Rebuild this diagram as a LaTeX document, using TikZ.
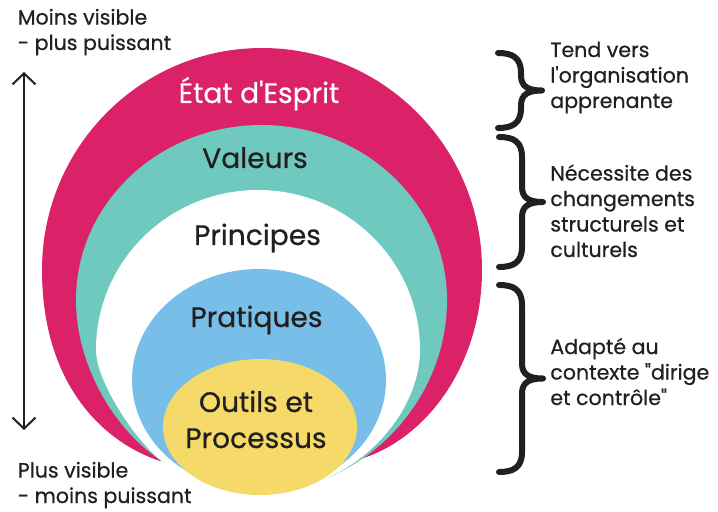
\documentclass[tikz,border=0pt]{standalone}
\usepackage{fontspec}
\setmainfont{Poppins}[FakeBold=0.6]
\usetikzlibrary{arrows.meta}
\definecolor{rose}{HTML}{DB2268}
\definecolor{turquoise}{HTML}{6FC9BE}
\definecolor{bleu}{HTML}{77BFE8}
\definecolor{jaune}{HTML}{F6DA69}
\definecolor{encre}{HTML}{231F20}
\newcommand{\accolade}[3]{%
	\draw[accolade] (#1,#2) .. controls (#1+0.3,#2) and (#1+0.46,#2-0.1) .. (#1+0.46,#2-0.4)
		-- (#1+0.46,{(#2+#3)/2+0.3}) .. controls (#1+0.46,{(#2+#3)/2+0.08}) and (#1+0.6,{(#2+#3)/2}) .. (#1+0.88,{(#2+#3)/2})
		.. controls (#1+0.6,{(#2+#3)/2}) and (#1+0.46,{(#2+#3)/2-0.08}) .. (#1+0.46,{(#2+#3)/2-0.3})
		-- (#1+0.46,#3+0.4) .. controls (#1+0.46,#3+0.1) and (#1+0.3,#3) .. (#1,#3);}

\begin{document}
\begin{tikzpicture}[
		grand/.style={font=\fontsize{16}{20.5}\selectfont, text=encre, align=center, inner sep=0pt, anchor=base},
		petit/.style={font=\fontsize{11.7}{14.5}\selectfont, text=encre, align=left, inner sep=0pt, anchor=base west},
		accolade/.style={draw=encre, line width=0.12cm, line cap=round, line join=round},
		fleche/.style={<->, >={Straight Barb[length=0.22cm, width=0.46cm]}, draw=encre, line width=0.04cm},
	]
		\useasboundingbox (0,0) rectangle (14.36,10.22);
		\fill[rose] (3.2,1.0) .. controls (2.0,1.4) and (0.84,2.6) .. (0.84,4.82)
			arc[start angle=180, end angle=0, x radius=4.4, y radius=4.44]
			.. controls (9.64,3.0) and (8.6,1.5) .. (7.27,1.06) -- cycle;
		\fill[turquoise] (3.26,0.98) .. controls (2.3,1.6) and (1.52,2.9) .. (1.52,4.22)
			arc[start angle=180, end angle=0, x radius=3.71, y radius=3.5]
			.. controls (8.94,2.6) and (7.9,1.2) .. (6.46,0.62) -- cycle;
		\fill[white] (3.26,0.98) .. controls (2.7,1.4) and (1.92,2.6) .. (1.92,3.22)
			arc[start angle=180, end angle=0, x radius=3.24, y radius=3.2]
			.. controls (8.4,2.2) and (7.6,1.1) .. (6.46,0.62) -- (4.8,0.3) -- cycle;
		\fill[bleu] (5.18,2.62) ellipse [x radius=2.54, y radius=2.22];
		\fill[jaune] (5.2,1.68) ellipse [x radius=1.94, y radius=1.36];

		\node[grand, text=white] (esprit) at (5.18,8.16) {État d\textquotesingle Esprit};
		\node[grand] (valeurs) at (5.1,6.86) {Valeurs};
		\node[grand] (principes) at (5.15,5.32) {Principes};
		\node[grand] (pratiques) at (5.13,3.68) {Pratiques};
		\node[grand] (outils) at (5.12,1.26) {Outils et\\Processus};

		\node[petit] (moins) at (0.35,9.22) {Moins visible\\- plus puissant};
		\node[petit] (plus) at (0.35,0.16) {Plus visible\\- moins puissant};
		\coordinate (haut) at (0.48,8.78);
		\coordinate (bas) at (0.48,1.62);
		\draw[fleche] (haut) -- (bas);

		\accolade{9.96}{9.16}{7.66}
		\accolade{9.98}{7.48}{4.88}
		\accolade{9.98}{4.52}{0.78}
		\node[petit] (tend) at (11.0,8.06) {Tend vers\\l\textquotesingle organisation\\apprenante};
		\node[petit] (necessite) at (11.0,5.08) {Nécessite des\\changements\\structurels et\\culturels};
		\node[petit] (adapte) at (11.0,2.12) {Adapté au\\contexte \textquotedbl dirige\\et contrôle\textquotedbl};
	\end{tikzpicture}
\end{document}
